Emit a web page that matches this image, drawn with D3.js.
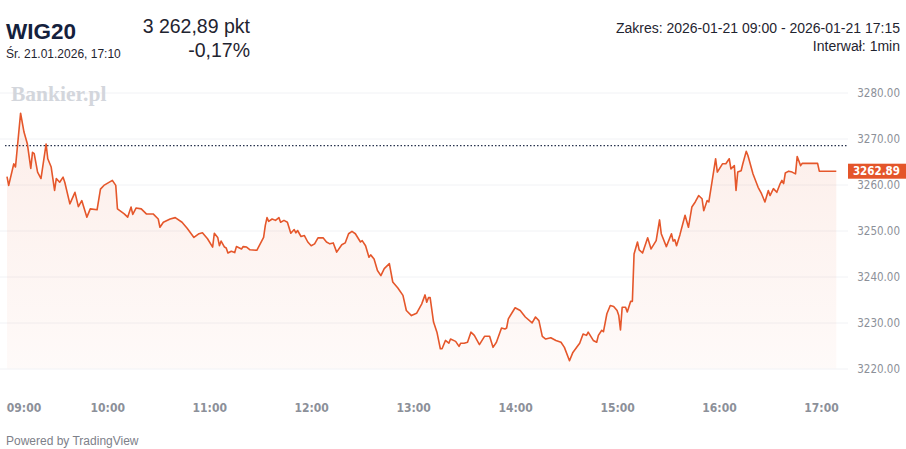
<!DOCTYPE html>
<html>
<head>
<meta charset="utf-8">
<script src="https://cdn.jsdelivr.net/npm/d3@7"></script>
<style>
    body { margin: 0; background: #ffffff; }
    svg { display: block; font-family: "Liberation Sans", Arial, sans-serif; }
    .axis text { font-family: "DejaVu Sans Condensed", "DejaVu Sans", sans-serif; fill: #8c9099; }
    .axis path, .axis line { display: none; }
    .grid line { stroke: #f1f2f5; stroke-width: 1; }
    .grid path, .grid text { display: none; }
</style>
</head>
<body>
<script>
// WIG20 intraday, 1 min interval, 21.01.2026

// =======================
// Data
// =======================
var times = [
    "09:01","09:02","09:05","09:06","09:09","09:11","09:13","09:15","09:16","09:17",
    "09:19","09:21","09:24","09:25","09:27","09:29","09:30","09:32","09:34","09:35",
    "09:38","09:41","09:43","09:45","09:48","09:50","09:54","09:56","09:58","10:03",
    "10:05","10:06","10:10","10:12","10:14","10:15","10:17","10:20","10:23","10:27",
    "10:30","10:31","10:33","10:37","10:40","10:44","10:47","10:51","10:54","10:56",
    "10:59","11:02","11:03","11:05","11:06","11:07","11:09","11:10","11:11","11:13",
    "11:15","11:16","11:19","11:20","11:22","11:24","11:28","11:30","11:32","11:33",
    "11:34","11:35","11:37","11:39","11:41","11:42","11:44","11:46","11:48","11:50",
    "11:51","11:52","11:54","11:56","11:58","12:00","12:02","12:04","12:07","12:09",
    "12:11","12:13","12:15","12:18","12:20","12:22","12:24","12:26","12:29","12:30",
    "12:32","12:34","12:35","12:37","12:39","12:41","12:43","12:46","12:48","12:51",
    "12:54","12:56","12:59","13:02","13:05","13:07","13:08","13:09","13:10","13:12",
    "13:14","13:16","13:17","13:19","13:21","13:22","13:25","13:27","13:28","13:30",
    "13:32","13:34","13:36","13:39","13:42","13:45","13:47","13:49","13:52","13:54",
    "13:55","13:56","13:59","14:00","14:03","14:06","14:10","14:12","14:14","14:16",
    "14:18","14:21","14:24","14:27","14:29","14:32","14:34","14:37","14:38","14:40",
    "14:42","14:43","14:46","14:48","14:49","14:51","14:52","14:54","14:56","14:58",
    "15:00","15:01","15:02","15:03","15:05","15:06","15:08","15:09","15:10","15:12",
    "15:13","15:15","15:18","15:20","15:23","15:25","15:26","15:29","15:32","15:33",
    "15:34","15:35","15:37","15:40","15:42","15:44","15:46","15:48","15:50","15:51",
    "15:53","15:54","15:56","15:58","15:59","16:02","16:04","16:06","16:07","16:09",
    "16:10","16:11","16:13","16:14","16:16","16:17","16:20","16:23","16:25","16:27",
    "16:29","16:30","16:32","16:34","16:36","16:37","16:38","16:39","16:41","16:43",
    "16:45","16:46","16:48","16:49","16:58","16:59","17:09"
];

var values = [
    3261.7,3259.8,3264.5,3263.8,3275.5,3271.4,3268.8,3263.5,3267.0,3266.7,
    3262.7,3261.3,3268.8,3265.6,3263.8,3258.7,3261.3,3260.5,3261.6,3260.5,
    3255.8,3258.3,3255.2,3256.5,3252.9,3254.7,3254.5,3259.0,3259.8,3260.9,
    3259.8,3254.7,3253.6,3252.9,3255.1,3253.5,3254.9,3254.7,3253.6,3253.6,
    3252.5,3250.7,3251.8,3252.5,3252.8,3251.8,3250.5,3248.5,3249.3,3249.5,
    3248.2,3246.4,3249.4,3248.5,3246.7,3247.7,3246.4,3246.2,3245.1,3245.5,
    3245.2,3246.5,3246.0,3246.5,3246.4,3245.8,3245.7,3247.1,3248.5,3251.1,
    3252.8,3252.0,3252.5,3252.2,3252.8,3251.8,3252.2,3251.8,3249.4,3250.2,
    3249.5,3250.0,3248.7,3248.9,3247.5,3246.7,3247.1,3248.4,3248.4,3247.5,
    3247.1,3247.3,3245.3,3246.9,3247.3,3249.3,3249.8,3249.3,3247.5,3247.8,
    3246.7,3244.2,3244.7,3243.8,3241.3,3240.2,3241.7,3242.8,3238.8,3237.5,
    3235.9,3232.6,3231.5,3232.0,3234.0,3236.0,3234.4,3235.4,3235.4,3230.1,
    3227.9,3224.3,3224.3,3226.1,3225.5,3226.4,3225.9,3224.8,3225.5,3225.5,
    3225.7,3227.9,3227.2,3225.2,3227.0,3227.0,3224.6,3225.7,3228.8,3228.6,
    3228.8,3230.8,3232.6,3233.2,3232.6,3231.2,3229.9,3231.2,3230.4,3227.0,
    3226.4,3226.7,3226.1,3225.7,3224.6,3221.7,3223.5,3225.0,3225.5,3227.5,
    3227.2,3227.9,3226.1,3225.7,3227.2,3228.3,3228.0,3231.9,3233.7,3233.5,
    3232.6,3231.5,3228.4,3233.3,3233.3,3232.3,3234.6,3234.6,3244.9,3247.5,
    3245.8,3245.1,3248.4,3246.0,3247.8,3252.3,3249.3,3246.5,3249.3,3247.7,
    3248.0,3246.7,3249.1,3253.3,3250.7,3255.1,3256.2,3257.6,3256.9,3254.3,
    3256.5,3256.2,3260.9,3265.6,3262.7,3264.5,3264.5,3265.6,3263.4,3264.1,
    3258.7,3262.7,3263.0,3264.5,3267.2,3266.3,3262.3,3259.4,3258.0,3256.2,
    3258.7,3257.6,3259.1,3258.3,3260.2,3260.9,3260.2,3262.5,3262.9,3262.7,
    3262.3,3266.1,3264.1,3264.6,3264.6,3262.89,3262.89
];

var yTicks = [3220, 3230, 3240, 3250, 3260, 3270, 3280];
var prevClose = 3268.45;
var lastValue = 3262.89;

window.onload = function(){

    // =======================
    // SVG dimension variables
    // =======================
    var w = 906,
        h = 449,
        plotRight = 848;

    var svg = d3.select("body")
        .append("svg")
        .attr("width", w)
        .attr("height", h);

    var parseTime = d3.timeParse("%Y-%m-%d %H:%M");
    var data = times.map(function(t, i){
        return { date: parseTime("2026-01-21 " + t), value: values[i] };
    });

    // =======================
    // Scales
    // =======================
    var x = d3.scaleTime()
        .domain([parseTime("2026-01-21 09:00"), parseTime("2026-01-21 17:00")])
        .range([5.3, 821]);

    var y = d3.scaleLinear()
        .domain([3220, 3280])
        .range([368.5, 92.5]);

    // =======================
    // Gradient for area
    // =======================
    var grad = svg.append("defs").append("linearGradient")
        .attr("id", "areaFill")
        .attr("gradientUnits", "userSpaceOnUse")
        .attr("x1", 0).attr("x2", 0)
        .attr("y1", y(3280)).attr("y2", y(3220));
    grad.append("stop").attr("offset", "0%").attr("stop-color", "#e5572b").attr("stop-opacity", 0.11);
    grad.append("stop").attr("offset", "100%").attr("stop-color", "#e5572b").attr("stop-opacity", 0.03);

    // =======================
    // Gridlines
    // =======================
    svg.append("g")
        .attr("class", "grid")
        .attr("transform", "translate(" + plotRight + ",0)")
        .call(d3.axisLeft(y).tickValues(yTicks).tickSize(plotRight).tickFormat(""));

    // =======================
    // Watermark
    // =======================
    svg.append("text")
        .attr("x", 11)
        .attr("y", 100.5)
        .style("font-family", "'Liberation Serif', 'DejaVu Serif', serif")
        .style("font-weight", "bold")
        .style("font-size", "21.5px")
        .style("fill", "#d3d6dc")
        .text("Bankier.pl");

    // =======================
    // Area and line
    // =======================
    var area = d3.area()
        .x(function(d){ return x(d.date); })
        .y0(y(3220))
        .y1(function(d){ return y(d.value); });

    var line = d3.line()
        .x(function(d){ return x(d.date); })
        .y(function(d){ return y(d.value); });

    svg.append("path")
        .datum(data)
        .attr("d", area)
        .style("fill", "url(#areaFill)");

    // previous close dotted line
    svg.append("line")
        .attr("x1", 5)
        .attr("x2", plotRight)
        .attr("y1", y(prevClose))
        .attr("y2", y(prevClose))
        .style("stroke", "#27324d")
        .style("stroke-width", 1.2)
        .style("stroke-dasharray", "1.5,2");

    svg.append("path")
        .datum(data)
        .attr("d", line)
        .style("fill", "none")
        .style("stroke", "#e5572b")
        .style("stroke-width", 1.6)
        .style("stroke-linejoin", "round");

    // =======================
    // Y axis
    // =======================
    var yAxis = svg.append("g")
        .attr("class", "axis")
        .attr("transform", "translate(" + plotRight + ",0)")
        .call(d3.axisRight(y).tickValues(yTicks).tickSize(0).tickFormat(d3.format(".2f")));
    yAxis.selectAll("text")
        .attr("x", 52)
        .attr("text-anchor", "end")
        .style("font-size", "11.5px");

    // last price label
    svg.append("rect")
        .attr("x", plotRight)
        .attr("y", y(lastValue) - 7.5)
        .attr("width", w - plotRight)
        .attr("height", 15)
        .style("fill", "#e4552a");
    svg.append("text")
        .attr("x", 900)
        .attr("y", y(lastValue))
        .attr("dy", "0.36em")
        .attr("text-anchor", "end")
        .style("font-family", "'DejaVu Sans Condensed', 'DejaVu Sans', sans-serif")
        .style("font-weight", "bold")
        .style("font-size", "11.5px")
        .style("fill", "#ffffff")
        .text(d3.format(".2f")(lastValue));

    // =======================
    // X axis
    // =======================
    var xAxis = svg.append("g")
        .attr("class", "axis")
        .attr("transform", "translate(0,403)")
        .call(d3.axisBottom(x).ticks(d3.timeHour.every(1)).tickSize(0).tickPadding(0)
            .tickFormat(d3.timeFormat("%H:%M")));
    xAxis.selectAll("text")
        .style("font-size", "12px")
        .style("font-weight", "bold");
    // first label kept inside the chart
    xAxis.selectAll(".tick").filter(function(d, i){ return i === 0; })
        .select("text")
        .attr("text-anchor", "start")
        .attr("x", 1);

    // =======================
    // Header texts
    // =======================
    svg.append("text")
        .attr("x", 6).attr("y", 39)
        .style("font-weight", "bold")
        .style("font-size", "22.5px")
        .style("fill", "#14213d")
        .text("WIG20");

    svg.append("text")
        .attr("x", 6).attr("y", 58)
        .style("font-size", "12px")
        .style("fill", "#1f2430")
        .text("Śr. 21.01.2026, 17:10");

    svg.append("text")
        .attr("x", 250).attr("y", 32.5)
        .attr("text-anchor", "end")
        .style("font-size", "19.5px")
        .style("fill", "#1f2430")
        .text("3 262,89 pkt");

    svg.append("text")
        .attr("x", 250).attr("y", 56.5)
        .attr("text-anchor", "end")
        .style("font-size", "19.5px")
        .style("fill", "#1f2430")
        .text("-0,17%");

    svg.append("text")
        .attr("x", 900).attr("y", 33)
        .attr("text-anchor", "end")
        .style("font-size", "14px")
        .style("fill", "#1f2430")
        .text("Zakres: 2026-01-21 09:00 - 2026-01-21 17:15");

    svg.append("text")
        .attr("x", 900).attr("y", 50.5)
        .attr("text-anchor", "end")
        .style("font-size", "14px")
        .style("fill", "#1f2430")
        .text("Interwał: 1min");

    svg.append("text")
        .attr("x", 6).attr("y", 445)
        .style("font-size", "12px")
        .style("fill", "#7d8089")
        .text("Powered by TradingView");
};
</script>
</body>
</html>
